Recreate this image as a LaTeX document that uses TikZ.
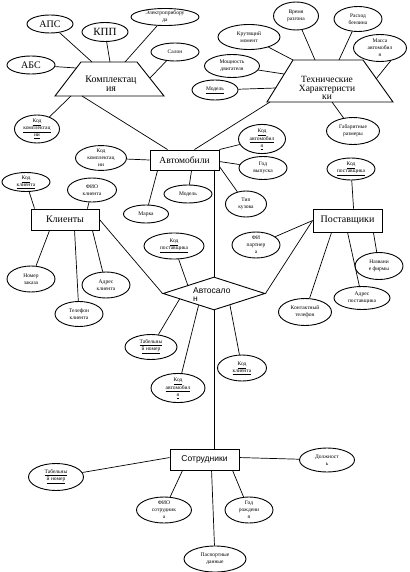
\documentclass[tikz,border=0pt]{standalone}
\usepackage{fontspec}
\setmainfont{Liberation Serif}
\newfontfamily\sansf{Liberation Sans}
\usetikzlibrary{shapes.geometric,calc}
\tikzset{
  attr/.style={ellipse,draw,line width=0.9pt,inner sep=0pt,align=center,
    font=\fontsize{5.5}{7}\selectfont},
  big/.style={font=\fontsize{10}{11}\selectfont},
  ent/.style={rectangle,draw,line width=0.9pt,inner sep=0pt,
    font=\fontsize{9.5}{11}\selectfont},
  trap/.style={draw,line width=0.9pt},
  ln/.style={line width=0.7pt}
}
\begin{document}
\begin{tikzpicture}[x=1pt,y=-1pt]
\useasboundingbox (0,0) rectangle (409,572);

% ---------- Комплектация ----------
\draw[trap] (81,62) -- (137,62) -- (164,96) -- (55,96) -- cycle;
\node[align=center,font=\fontsize{10}{9}\selectfont] (kpltxt) at (111,84) {Комплектац\\ия};
\coordinate (kA) at (92,62);
\coordinate (kB) at (110,62);
\coordinate (kC) at (125,62);
\coordinate (kD) at (150,78);
\coordinate (kE) at (76,68);
\coordinate (kF) at (71,96);
\coordinate (kG) at (82,96);

\node[attr,minimum width=46pt,minimum height=18pt,big] (apc) at (50,24) {АПС};
\node[attr,minimum width=46pt,minimum height=19pt,font=\fontsize{11}{12}\selectfont] (kpp) at (105,32) {КПП};
\node[attr,minimum width=68pt,minimum height=17pt] (elec) at (165,17) {Электроприбору\\да};
\node[attr,minimum width=48pt,minimum height=18pt] (salon) at (175,52) {Салон};
\node[attr,minimum width=48pt,minimum height=18pt,big] (abs) at (31,65) {АБС};
\node[attr,minimum width=45pt,minimum height=28pt] (kodkompl1) at (37,129) {\underline{Код}\\\underline{комплектац}\\\underline{ии}};

\draw[ln] (apc) -- (kA);
\draw[ln] (kpp) -- (kB);
\draw[ln] (elec) -- (kC);
\draw[ln] (salon) -- (kD);
\draw[ln] (abs) -- (kE);
\draw[ln] (kF) -- (kodkompl1);

% ---------- Технические характеристики ----------
\draw[trap] (293,60) -- (363,60) -- (393,102) -- (267,102) -- cycle;
\node[align=center,font=\fontsize{9.5}{8.5}\selectfont] (thtxt) at (327,88) {Технические\\Характеристи\\ки};
\coordinate (tA) at (315,60);
\coordinate (tB) at (339,60);
\coordinate (tC) at (376,79);
\coordinate (tD) at (293,60);
\coordinate (tE) at (284,74);
\coordinate (tF) at (276,88);
\coordinate (tG) at (270,102);
\coordinate (tH) at (332,102);

\node[attr,minimum width=45pt,minimum height=28pt] (vremya) at (296,16) {Время\\разгона};
\node[attr,minimum width=48pt,minimum height=25pt] (rashod) at (358,19) {Расход\\бензина};
\node[attr,minimum width=62pt,minimum height=25pt] (krut) at (249,37) {Крутящий\\момент};
\node[attr,minimum width=53pt,minimum height=27pt] (massa) at (380,48) {Масса\\автомобил\\я};
\node[attr,minimum width=55pt,minimum height=23pt] (mosh) at (232,66) {Мощность\\двигателя};
\node[attr,minimum width=46pt,minimum height=20pt] (model1) at (215,90) {\underline{Модель}};
\node[attr,minimum width=53pt,minimum height=27pt] (gabar) at (353,131) {Габаритные\\размеры};

\draw[ln] (vremya) -- (tA);
\draw[ln] (rashod) -- (tB);
\draw[ln] (massa.-50) -- (tC);
\draw[ln] (krut) -- (tD);
\draw[ln] (mosh) -- (tE);
\draw[ln] (model1) -- (tF);
\draw[ln] (tH) -- (gabar);

% ---------- Автомобили ----------
\node[ent,minimum width=69pt,minimum height=20pt] (avto) at (184.5,160) {Автомобили};
\node[attr,minimum width=51pt,minimum height=24pt] (kodkompl2) at (101,158) {Код\\комплектац\\ии};
\node[attr,minimum width=47pt,minimum height=25pt] (kodavto1) at (262,139) {\underline{Код}\\\underline{автомобил}\\\underline{я}};
\node[attr,minimum width=48pt,minimum height=23pt] (god) at (263,168) {Год\\выпуска};
\node[attr,minimum width=41pt,minimum height=26pt] (tip) at (246,204) {Тип\\кузова};
\node[attr,minimum width=45pt,minimum height=18pt] (marka) at (146,214) {Марка};
\node[attr,minimum width=48pt,minimum height=18pt] (model2) at (188,194) {Модель};

\draw[ln] (kG) -- ([xshift=18pt]avto.north west);
\draw[ln] (tG) -- ([xshift=-25pt]avto.north east);
\draw[ln] (kodkompl2) -- (avto.west);
\draw[ln] (kodavto1) -- (avto.north east);
\draw[ln] (god) -- ([yshift=-12pt]avto.north east);
\draw[ln] (tip) -- ([yshift=-17pt]avto.north east);
\draw[ln] (marka) -- ([xshift=8pt]avto.south west);
\draw[ln] (model2) -- ([xshift=42pt]avto.south west);

% ---------- Клиенты ----------
\node[ent,minimum width=68pt,minimum height=21pt,font=\fontsize{10}{11}\selectfont] (klient) at (65,219.5) {Клиенты};
\node[attr,minimum width=48pt,minimum height=19pt] (kodkl1) at (26,182) {\underline{Код}\\\underline{клиента}};
\node[attr,minimum width=49pt,minimum height=24pt] (fiokl) at (92,190) {ФИО\\клиента};
\node[attr,minimum width=48pt,minimum height=26pt] (nomer) at (31,279) {Номер\\заказа};
\node[attr,minimum width=48pt,minimum height=25pt] (tel) at (79,314) {Телефон\\клиента};
\node[attr,minimum width=48pt,minimum height=26pt] (adr) at (106,285) {Адрес\\клиента};

\draw[ln] (kodkl1) -- ([xshift=4pt]klient.north west);
\draw[ln] (fiokl) -- ([xshift=-12pt]klient.north east);
\draw[ln] ([xshift=19pt]klient.south west) -- (nomer);
\draw[ln] ([xshift=44pt]klient.south west) -- (tel);
\draw[ln] ([xshift=-7pt]klient.south east) -- (adr);

% ---------- Поставщики ----------
\node[ent,minimum width=69pt,minimum height=23pt,font=\fontsize{10}{11}\selectfont] (post) at (347.5,220.5) {Поставщики};
\node[attr,minimum width=48pt,minimum height=22pt] (kodpost1) at (351,169) {\underline{Код}\\\underline{поставщика}};
\node[attr,minimum width=48pt,minimum height=26pt] (fiop) at (256,245) {ФИ\\партнер\\а};
\node[attr,minimum width=48pt,minimum height=27pt] (nazv) at (379,266) {Названи\\е фирмы};
\node[attr,minimum width=56pt,minimum height=23pt] (adrp) at (362,298) {Адрес\\поставщика};
\node[attr,minimum width=53pt,minimum height=27pt] (kontakt) at (305,312) {Контактный\\телефон};

\draw[ln] (kodpost1) -- ([xshift=41pt]post.north west);
\draw[ln] (fiop) -- ([yshift=-12pt]post.north west);
\draw[ln] ([xshift=19pt]post.south west) -- (kontakt);
\draw[ln] ([xshift=35pt]post.south west) -- (adrp);
\draw[ln] ([xshift=-9pt]post.south east) -- (nazv);

% ---------- Автосалон ----------
\node[diamond,draw,line width=0.9pt,inner sep=0pt,minimum width=102pt,minimum height=33pt] (dia) at (214,293.5) {};
\node[anchor=north west,align=left,inner sep=0pt,font=\sansf\fontsize{8.5}{8}\selectfont] (diatxt) at (193,287.5) {Автосало\\н};
\node[attr,minimum width=60pt,minimum height=26pt] (kodpost2) at (174,246) {\underline{Код}\\\underline{поставщика}};
\node[attr,minimum width=52pt,minimum height=25pt] (tab1) at (151,347) {\underline{Табельны}\\\underline{й номер}};
\node[attr,minimum width=54pt,minimum height=28pt] (kodavto2) at (178,388) {\underline{Код}\\\underline{автомобил}\\\underline{я}};
\node[attr,minimum width=49pt,minimum height=26pt] (kodkl2) at (242,368) {\underline{Код}\\\underline{клиента}};

\draw[ln] (avto.south -| dia.north) -- (dia.north);
\draw[ln] (klient.east) -- (dia.west);
\draw[ln] (dia.east) -- ([yshift=-12pt]post.north west);
\draw[ln] (kodpost2) -- ($(dia.west)!0.49!(dia.north)$);
\draw[ln] ($(dia.west)!0.33!(dia.south)$) -- (tab1);
\draw[ln] ($(dia.west)!0.7!(dia.south)$) -- (kodavto2);
\draw[ln] ($(dia.south)!0.31!(dia.east)$) -- (kodkl2);

% ---------- Сотрудники ----------
\node[ent,minimum width=69pt,minimum height=21pt,font=\sansf\fontsize{8.5}{10}\selectfont] (sotr) at (204.5,459.5) {Сотрудники};
\node[attr,minimum width=55pt,minimum height=27pt] (tab2) at (56,477) {\underline{Табельны}\\\underline{й номер}};
\node[attr,minimum width=55pt,minimum height=26pt] (fios) at (164,510) {ФИО\\сотрудник\\а};
\node[attr,minimum width=62pt,minimum height=26pt] (pasp) at (215,559) {Паспортные\\данные};
\node[attr,minimum width=48pt,minimum height=26pt] (godr) at (249,510) {Год\\рождени\\я};
\node[attr,minimum width=55pt,minimum height=24pt] (dolzh) at (327,460) {Должност\\ь};

\draw[ln] (dia.south) -- (dia.south |- sotr.north);
\draw[ln] (tab2) -- ([yshift=-9pt]sotr.north west);
\draw[ln] ([xshift=13pt]sotr.south west) -- (fios);
\draw[ln] ([xshift=42pt]sotr.south west) -- (pasp);
\draw[ln] ([xshift=63pt]sotr.south west) -- (godr);
\draw[ln] ([yshift=-9pt]sotr.north east) -- (dolzh);
\end{tikzpicture}
\end{document}
